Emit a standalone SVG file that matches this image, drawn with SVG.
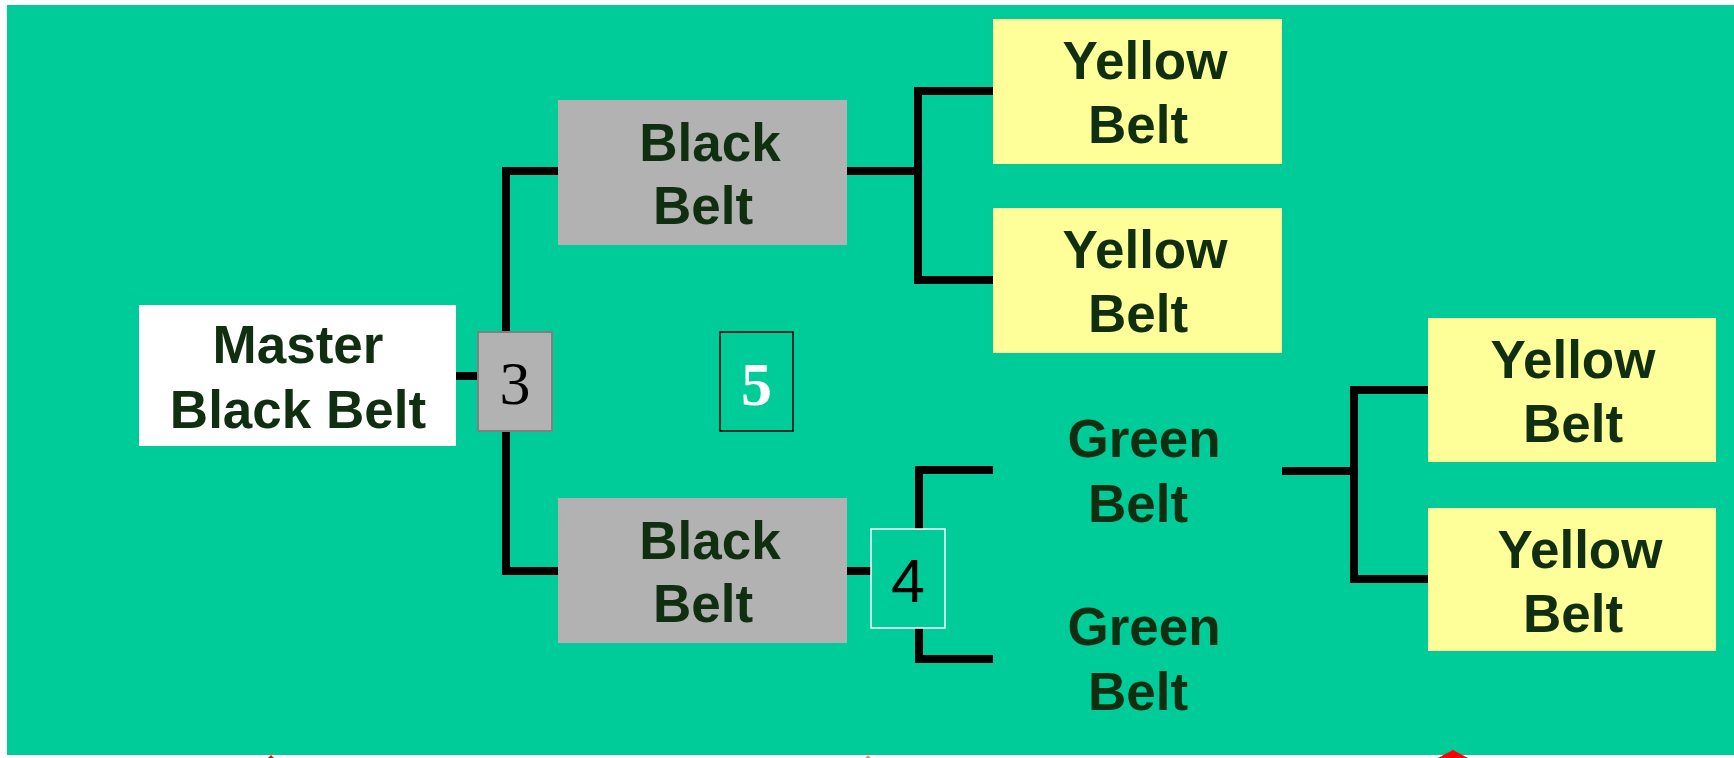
<svg xmlns="http://www.w3.org/2000/svg" width="1734" height="758" viewBox="0 0 1734 758">
<style>
.t{font-family:"Liberation Sans",Arial,sans-serif;font-weight:bold;font-size:53px;fill:#102e10;text-anchor:middle}
.c{stroke:#000;stroke-width:8;fill:none;stroke-linecap:butt}
.y{fill:#ffff99}
.g{fill:#b2b2b2}
</style>
<rect x="0" y="0" width="1734" height="758" fill="#fff"/>
<rect x="7" y="5" width="1727" height="750" fill="#00cc99"/>
<g id="connectors">
<path class="c" d="M456 376H478"/>
<path class="c" d="M558 171H506V571H558"/>
<path class="c" d="M847 171H918"/>
<path class="c" d="M993 91H918V280H993"/>
<path class="c" d="M847 571H871"/>
<path class="c" d="M993 470H919V659H993"/>
<path class="c" d="M1282 471H1354"/>
<path class="c" d="M1428 390H1354V579H1428"/>
</g>
<g id="master">
<rect x="139" y="305" width="317" height="141" fill="#fff"/>
<text class="t" x="298" y="363">Master</text>
<text class="t" x="298" y="428">Black Belt</text>
</g>
<g id="box3">
<rect x="478" y="332" width="74" height="99" class="g" stroke="#808080" stroke-width="2"/>
<text x="515" y="404" font-family="Liberation Serif,serif" font-size="62" text-anchor="middle" fill="#000">3</text>
</g>
<g id="box5">
<rect x="720" y="332" width="73" height="99" fill="none" stroke="#000" stroke-width="1.5"/>
<text x="756.5" y="405" font-family="Liberation Serif,serif" font-weight="bold" font-size="62" text-anchor="middle" fill="#fff">5</text>
</g>
<g id="blackbelt1">
<rect x="558" y="100" width="289" height="145" class="g"/>
<text class="t" x="710" y="161">Black</text>
<text class="t" x="703" y="224">Belt</text>
</g>
<g id="blackbelt2">
<rect x="558" y="498" width="289" height="145" class="g"/>
<text class="t" x="710" y="559">Black</text>
<text class="t" x="703" y="622">Belt</text>
</g>
<g id="box4">
<rect x="871" y="529" width="74" height="99" fill="#00cc99" stroke="#fff" stroke-width="1.5"/>
<text x="908" y="602" font-family="Liberation Sans,Arial,sans-serif" font-size="61" text-anchor="middle" fill="#000">4</text>
</g>
<g id="yellow1">
<rect x="993" y="19" width="289" height="145" class="y"/>
<text class="t" x="1145" y="79">Yellow</text>
<text class="t" x="1138" y="143">Belt</text>
</g>
<g id="yellow2">
<rect x="993" y="208" width="289" height="145" class="y"/>
<text class="t" x="1145" y="268">Yellow</text>
<text class="t" x="1138" y="332">Belt</text>
</g>
<g id="green1">
<text class="t" x="1144" y="457">Green</text>
<text class="t" x="1138" y="522">Belt</text>
</g>
<g id="green2">
<text class="t" x="1144" y="645">Green</text>
<text class="t" x="1138" y="710">Belt</text>
</g>
<g id="yellow3">
<rect x="1428" y="318" width="288" height="144" class="y"/>
<text class="t" x="1573" y="378">Yellow</text>
<text class="t" x="1573" y="442">Belt</text>
</g>
<g id="yellow4">
<rect x="1428" y="508" width="288" height="143" class="y"/>
<text class="t" x="1580" y="568">Yellow</text>
<text class="t" x="1573" y="632">Belt</text>
</g>
<path d="M1438 758L1453 750L1468 758Z" fill="#f00"/>
<path d="M268 758L271 755L274 758Z" fill="#f00"/>
<path d="M865 758L868 755L871 758Z" fill="#f88"/>
</svg>
